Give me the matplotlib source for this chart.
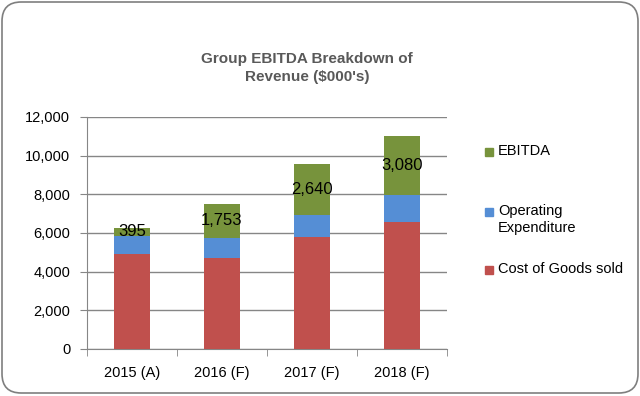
import matplotlib
matplotlib.use("Agg")
import matplotlib.pyplot as plt
from matplotlib.patches import FancyBboxPatch, Rectangle
from matplotlib.ticker import FuncFormatter, FixedLocator
import numpy as np

# ── Data ────────────────────────────────────────────────────────────────────
years = ["2015 (A)", "2016 (F)", "2017 (F)", "2018 (F)"]
cogs = [4930, 4730, 5780, 6550]
opex = [925, 1035, 1150, 1400]
ebitda = [395, 1753, 2640, 3080]
series_names = ["EBITDA", "Operating\nExpenditure", "Cost of Goods sold"]

# Excel-ish palette
C_COGS = "#C0504D"
C_OPEX = "#558ED5"
C_EBITDA = "#77933C"
GRID = "#868686"

plt.rcParams.update({
    "font.family": ["Liberation Sans", "DejaVu Sans"],
    "font.size": 10.5,
})

fig = plt.figure(figsize=(6.4, 3.96), dpi=100)
ax = fig.add_axes([87 / 640, 1 - 349 / 396, 360 / 640, 232 / 396])

x = np.arange(len(years))
w = 0.4
b1 = ax.bar(x, cogs, w, color=C_COGS, zorder=3)
b2 = ax.bar(x, opex, w, bottom=cogs, color=C_OPEX, zorder=3)
bottom3 = np.array(cogs) + np.array(opex)
b3 = ax.bar(x, ebitda, w, bottom=bottom3, color=C_EBITDA, zorder=3)
ax.bar_label(b3, labels=[f"{v:,}" for v in ebitda], label_type="center",
             fontsize=12, color="black", zorder=4)

ax.set_xlim(-0.5, 3.5)
ax.set_ylim(0, 12000)
ax.set_yticks(np.arange(0, 12001, 2000))
ax.yaxis.set_major_formatter(FuncFormatter(lambda v, p: f"{int(v):,}"))
ax.grid(axis="y", color=GRID, linewidth=1, zorder=0)
ax.set_axisbelow(True)

ax.set_xticks(x)
ax.set_xticklabels(years)
ax.tick_params(axis="x", which="major", length=0, pad=12, labelsize=10.5)
ax.xaxis.set_minor_locator(FixedLocator([-0.5, 0.5, 1.5, 2.5, 3.5]))
ax.tick_params(axis="x", which="minor", length=5, color=GRID, direction="out")
ax.tick_params(axis="y", length=5, color=GRID, pad=7, labelsize=10.5)

for s in ["top", "right"]:
    ax.spines[s].set_visible(False)
for s in ["left", "bottom"]:
    ax.spines[s].set_color(GRID)

# Title
fig.text(307 / 640, 1 - 68 / 396, "Group EBITDA Breakdown of\nRevenue ($000's)",
         ha="center", va="center", fontsize=11, fontweight="bold",
         color="#595959", linespacing=1.4)

# Legend (Excel-style, drawn manually)
leg_items = [(C_EBITDA, series_names[0], 152),
             (C_OPEX, series_names[1], 212),
             (C_COGS, series_names[2], 270)]
for col, name, yp in leg_items:
    fig.patches.append(Rectangle((485 / 640, 1 - (yp + 4) / 396), 8 / 640, 8 / 396,
                                 transform=fig.transFigure, color=col))
    fig.text(498 / 640, 1 - (yp - 8) / 396, name, ha="left", va="top",
             fontsize=10.5, color="black", linespacing=1.25)

# Rounded outer border
fig.patches.append(FancyBboxPatch((2 / 640, 3 / 396), 636 / 640, 391 / 396,
                                  boxstyle="round,pad=0,rounding_size=0.03",
                                  transform=fig.transFigure, fill=False,
                                  edgecolor="#7F7F7F", linewidth=1.2,
                                  mutation_aspect=640 / 396))

fig.savefig("out.png", dpi=100)
